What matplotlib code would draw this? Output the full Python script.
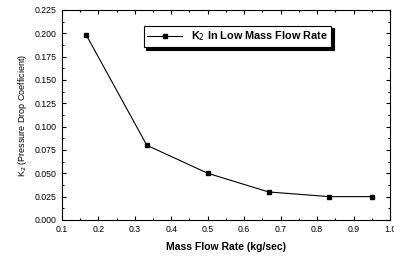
import matplotlib
matplotlib.use("Agg")
import matplotlib.pyplot as plt
from matplotlib.ticker import MultipleLocator, FormatStrFormatter

# data
mass_flow = [0.167, 0.333, 0.5, 0.667, 0.833, 0.95]
k2 = [0.198, 0.080, 0.050, 0.030, 0.025, 0.025]

plt.rcParams["font.family"] = ["Liberation Sans", "DejaVu Sans"]

fig = plt.figure(figsize=(3.94, 2.60), dpi=100)
ax = fig.add_axes([0.157, 0.154, 0.833, 0.808])

ax.plot(mass_flow, k2, color="black", lw=0.8, marker="s", ms=3.5,
        label=r"K$_2$ In Low Mass Flow Rate")

ax.set_xlim(0.1, 1.0)
ax.set_ylim(0.0, 0.225)
ax.xaxis.set_major_locator(MultipleLocator(0.1))
ax.xaxis.set_minor_locator(MultipleLocator(0.05))
ax.yaxis.set_major_locator(MultipleLocator(0.025))
ax.yaxis.set_minor_locator(MultipleLocator(0.0125))
ax.xaxis.set_major_formatter(FormatStrFormatter("%.1f"))
ax.yaxis.set_major_formatter(FormatStrFormatter("%.3f"))
ax.tick_params(which="both", direction="in", top=True, right=True,
               labeltop=False, labelright=False, labelsize=6.3, width=0.8)
ax.tick_params(which="major", length=3)
ax.tick_params(which="minor", length=1.5)
for s in ax.spines.values():
    s.set_linewidth(0.8)

ax.set_xlabel("Mass Flow Rate (kg/sec)", fontsize=7.5, fontweight="bold", labelpad=6)
ax.set_ylabel(r"K$_2$ (Pressure Drop Coefficient)", fontsize=6.5, labelpad=4)

leg = ax.legend(loc="upper center", bbox_to_anchor=(0.535, 0.925),
                prop={"weight": "bold", "size": 7.8}, fancybox=False,
                shadow={"color": "black", "alpha": 1.0, "ox": 2, "oy": -2},
                edgecolor="black", handlelength=3.2, borderpad=0.35,
                borderaxespad=0)
leg.get_frame().set_linewidth(0.8)

fig.savefig("out.png", dpi=100)
